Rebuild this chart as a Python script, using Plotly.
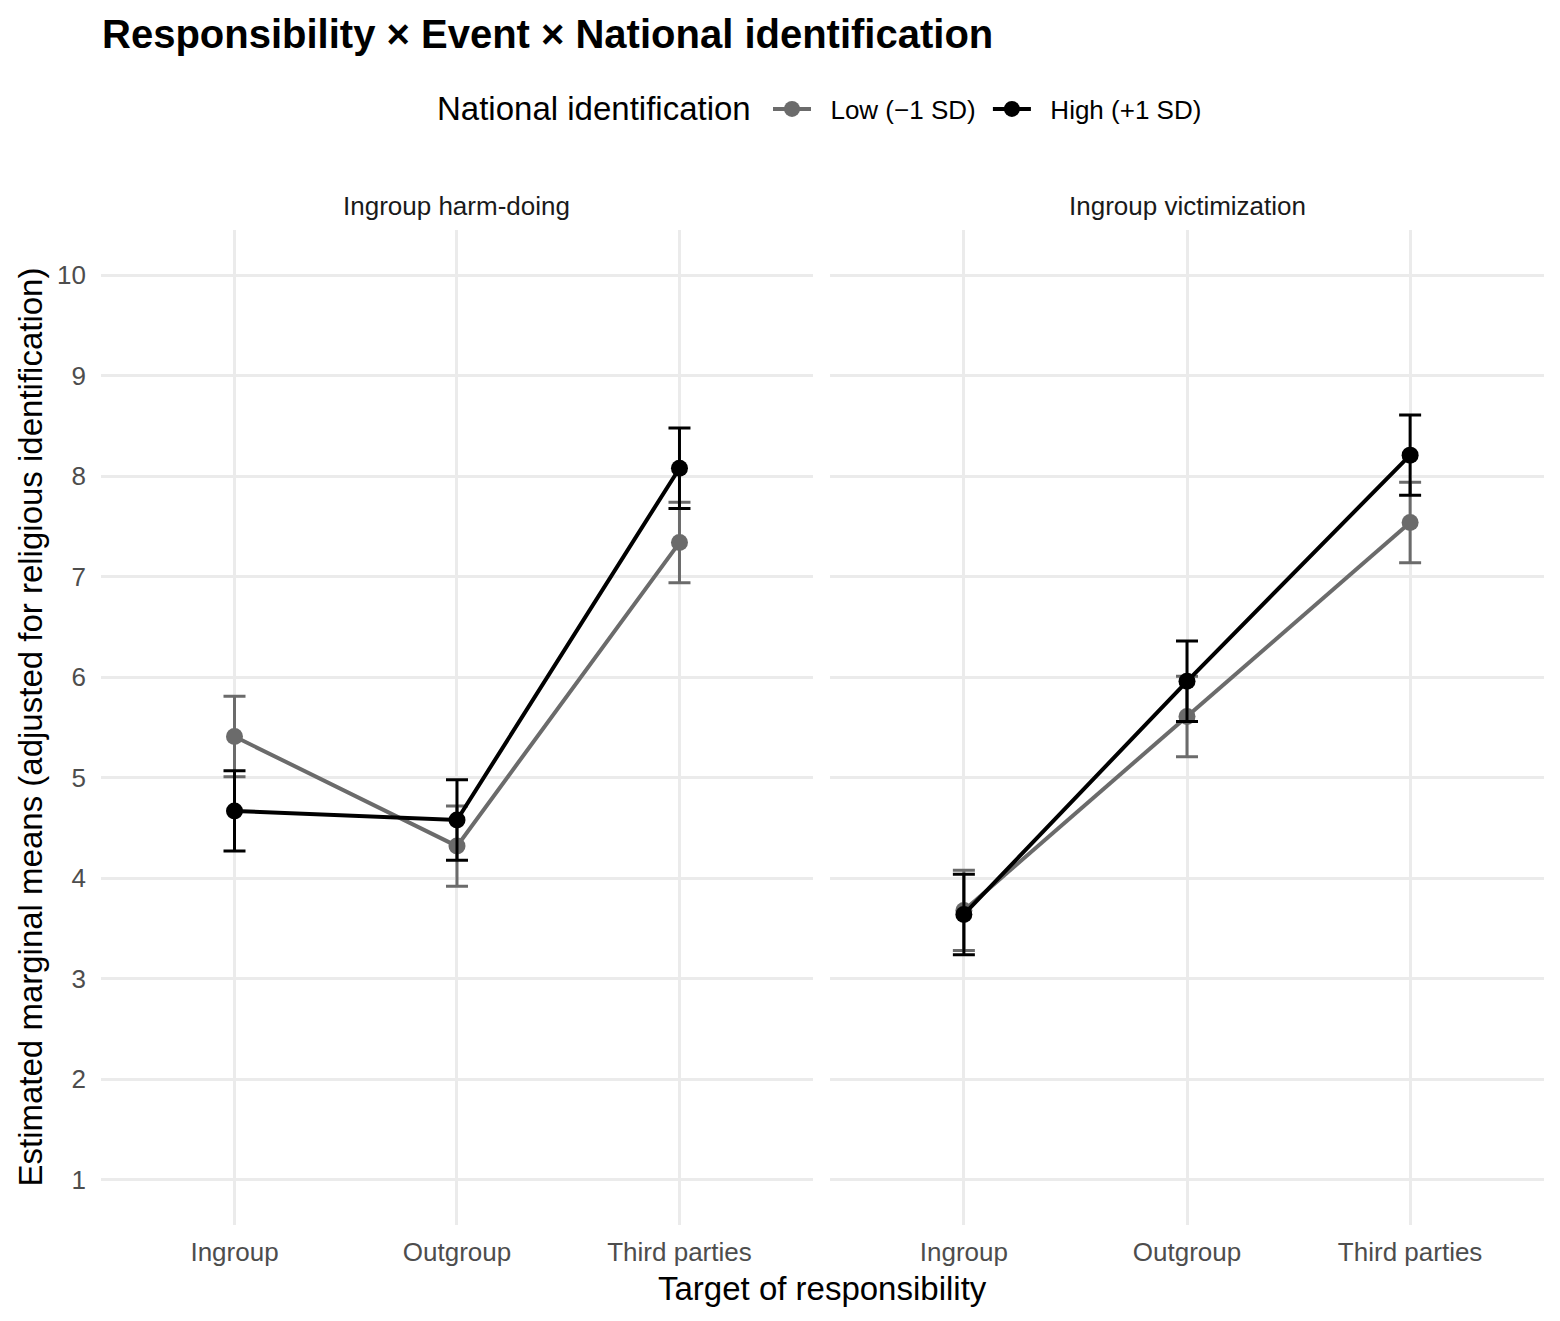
import plotly.graph_objects as go

categories = ["Ingroup", "Outgroup", "Third parties"]
panels = ["Ingroup harm-doing", "Ingroup victimization"]
series_names = ["Low (\u22121 SD)", "High (+1 SD)"]

harm_low = [5.41, 4.32, 7.34]
harm_low_lo = [5.01, 3.92, 6.94]
harm_low_hi = [5.81, 4.72, 7.74]
harm_high = [4.67, 4.58, 8.08]
harm_high_lo = [4.27, 4.18, 7.68]
harm_high_hi = [5.07, 4.98, 8.48]

vict_low = [3.68, 5.61, 7.54]
vict_low_lo = [3.28, 5.21, 7.14]
vict_low_hi = [4.08, 6.01, 7.94]
vict_high = [3.64, 5.96, 8.21]
vict_high_lo = [3.24, 5.56, 7.81]
vict_high_hi = [4.04, 6.36, 8.61]

y_ticks = [1, 2, 3, 4, 5, 6, 7, 8, 9, 10]

colors = {"low": "#6B6B6B", "high": "#000000"}
FONT = "Liberation Sans, Arial, Helvetica, sans-serif"
NB = "\u00a0"

# page has an 8px body margin; figure is sized/offset to compensate
W, H = 1552, 1313
ML, MR, MT, MB = 93, 16, 222, 96
PW = W - ML - MR
PH = H - MT - MB

fig = go.Figure()

panel_data = [
    ("x", "y", [(harm_low, harm_low_lo, harm_low_hi, "low"), (harm_high, harm_high_lo, harm_high_hi, "high")]),
    ("x2", "y2", [(vict_low, vict_low_lo, vict_low_hi, "low"), (vict_high, vict_high_lo, vict_high_hi, "high")]),
]

# legend label padding (visual spacing only)
legend_labels = [NB * 2 + series_names[0] + NB, NB * 2 + series_names[1]]

for pi, (xa, ya, series) in enumerate(panel_data):
    for si, (m, lo, hi, key) in enumerate(series):
        fig.add_trace(go.Scatter(
            x=categories, y=m, xaxis=xa, yaxis=ya,
            mode="lines+markers",
            name=legend_labels[si],
            legendgroup=key,
            showlegend=(pi == 0),
            line=dict(color=colors[key], width=4),
            marker=dict(color=colors[key], size=17),
            error_y=dict(type="data", symmetric=False,
                         array=[h - v for h, v in zip(hi, m)],
                         arrayminus=[v - l for v, l in zip(m, lo)],
                         color=colors[key], thickness=3, width=11),
        ))

grid = "#EBEBEB"
axis_common = dict(type="category", range=[-0.6, 2.6], showgrid=True, gridcolor=grid, gridwidth=2.5,
                   zeroline=False, showline=False, ticks="", ticklabelstandoff=9,
                   tickfont=dict(family=FONT, size=26, color="#4D4D4D"))
yaxis_common = dict(range=[0.55, 10.45], tickvals=y_ticks, showgrid=True, gridcolor=grid, gridwidth=2.5,
                    zeroline=False, showline=False, ticks="")

fig.update_layout(
    width=W, height=H,
    paper_bgcolor="white", plot_bgcolor="white",
    margin=dict(l=ML, r=MR, t=MT, b=MB),
    font=dict(family=FONT, color="black"),
    xaxis=dict(domain=[0, 0.4934], **axis_common),
    xaxis2=dict(domain=[0.5052, 1], anchor="y2", **axis_common),
    yaxis=dict(anchor="x", ticklabelstandoff=14,
               tickfont=dict(family=FONT, size=26, color="#4D4D4D"), **yaxis_common),
    yaxis2=dict(anchor="x2", matches="y", showticklabels=False, **yaxis_common),
    title=dict(text="<b>Responsibility \u00d7 Event \u00d7 National identification</b>",
               x=94 / W, xanchor="left", xref="container",
               y=1 - 26 / H, yanchor="middle", yref="container",
               font=dict(family=FONT, size=40, color="black")),
    legend=dict(orientation="h", x=(768 - 101) / PW, xanchor="left", y=(1225 - 109) / PH, yanchor="middle",
                font=dict(family=FONT, size=26, color="black"),
                itemwidth=38, bgcolor="rgba(0,0,0,0)"),
    showlegend=True,
)

annotations = [
    dict(text="National identification", xref="paper", yref="paper", x=(753 - 101) / PW, y=(1225 - 109) / PH,
         showarrow=False, xanchor="right", yanchor="middle", font=dict(family=FONT, size=33, color="black")),
    dict(text=panels[0], xref="x domain", yref="paper", x=0.5, y=(1225 - 206) / PH,
         showarrow=False, yanchor="middle", font=dict(family=FONT, size=26, color="#1A1A1A")),
    dict(text=panels[1], xref="x2 domain", yref="paper", x=0.5, y=(1225 - 206) / PH,
         showarrow=False, yanchor="middle", font=dict(family=FONT, size=26, color="#1A1A1A")),
    dict(text="Target of responsibility", xref="paper", yref="paper", x=0.5, y=(1225 - 1288) / PH,
         showarrow=False, yanchor="middle", font=dict(family=FONT, size=33, color="black")),
    dict(text="Estimated marginal means (adjusted for religious identification)", xref="paper", yref="paper",
         x=(30 - 101) / PW, y=0.5, textangle=-90, showarrow=False, xanchor="center", yanchor="middle",
         font=dict(family=FONT, size=33, color="black")),
]
fig.update_layout(annotations=annotations)

fig.write_html("out.html")
